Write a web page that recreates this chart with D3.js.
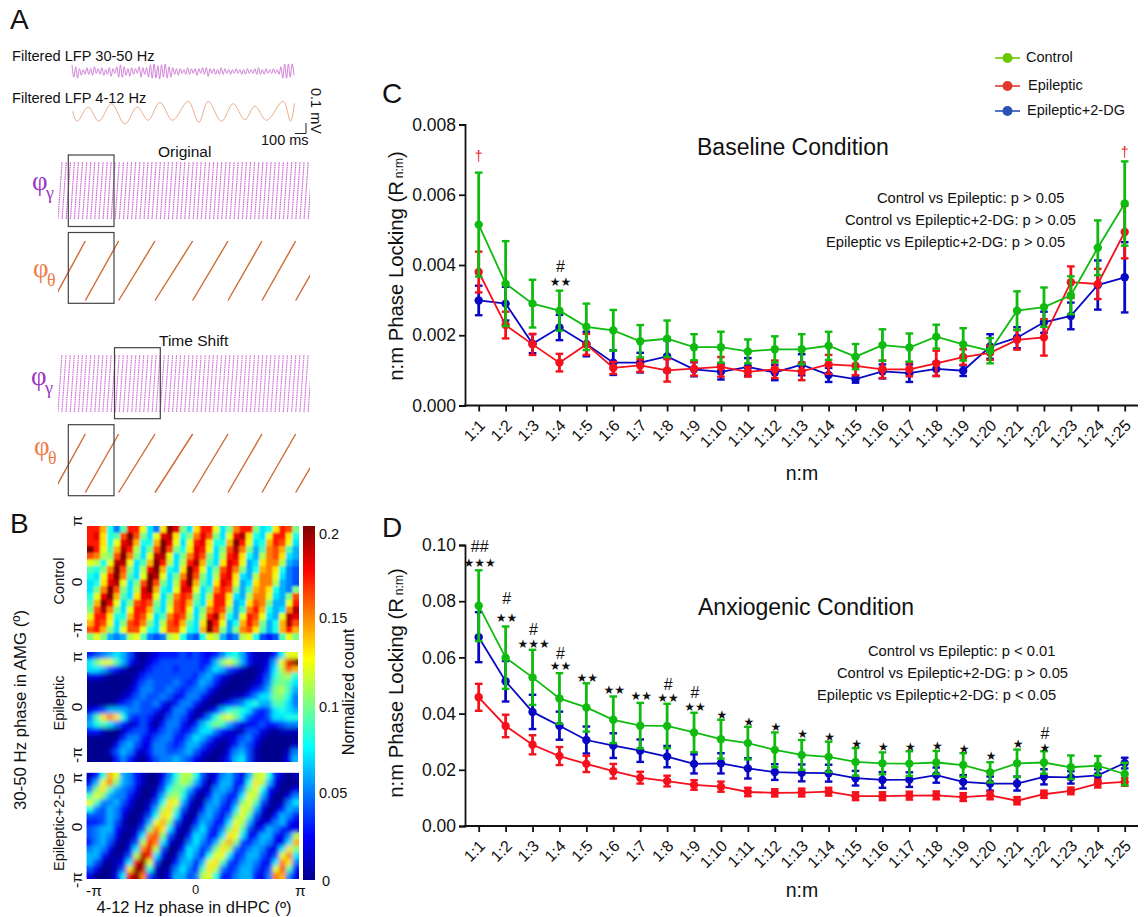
<!DOCTYPE html>
<html><head><meta charset="utf-8">
<script src="https://cdn.jsdelivr.net/npm/d3@7"></script>
<style>
html,body{margin:0;padding:0;background:#fff}
svg{display:block}
text{font-family:"Liberation Sans",Arial,sans-serif;fill:#111}
</style></head><body><svg id="c" width="1147" height="917"></svg>
<script>
// ---------- data: panels C and D ----------
const ratioLabels=["1:1","1:2","1:3","1:4","1:5","1:6","1:7","1:8","1:9","1:10","1:11","1:12","1:13","1:14","1:15","1:16","1:17","1:18","1:19","1:20","1:21","1:22","1:23","1:24","1:25"];
const seriesNames=["Control","Epileptic","Epileptic+2-DG"];
const baseControl=[5.15,3.47,2.9,2.7,2.24,2.14,1.83,1.9,1.66,1.66,1.54,1.6,1.6,1.7,1.39,1.72,1.65,1.96,1.74,1.56,2.7,2.8,3.14,4.49,5.75];
const baseControlErr=[1.48,1.21,.68,.57,.66,.58,.46,.52,.37,.44,.34,.37,.43,.4,.36,.45,.4,.34,.46,.36,.55,.56,.54,.78,1.2];
const baseEpileptic=[3.8,2.29,1.74,1.22,1.74,1.07,1.14,1.0,1.05,1.1,.96,1.03,.97,1.17,1.13,1.03,1.03,1.2,1.38,1.5,1.87,1.94,3.51,3.46,4.94];
const baseEpilepticErr=[.58,.38,.3,.25,.3,.17,.18,.32,.2,.28,.14,.25,.25,.27,.27,.25,.2,.36,.22,.2,.28,.52,.45,.43,.75];
const baseDG=[2.99,2.9,1.76,2.22,1.75,1.22,1.22,1.4,1.03,.96,1.1,.94,1.16,.87,.75,.97,.92,1.04,.99,1.68,1.93,2.37,2.55,3.43,3.65];
const baseDGErr=[.42,.48,.27,.36,.35,.35,.28,.45,.2,.22,.25,.22,.3,.2,.1,.2,.25,.2,.15,.35,.3,.3,.38,.7,1.0];
const anxControl=[.0784,.0599,.0529,.0454,.0422,.0378,.0357,.0356,.0333,.0309,.0295,.0271,.0253,.0246,.0228,.0223,.0222,.0226,.0217,.0191,.0223,.0226,.0209,.0215,.0185];
const anxControlErr=[.0126,.0111,.0098,.009,.0086,.0083,.0081,.0079,.007,.0069,.0058,.0062,.0053,.0054,.0049,.0039,.0044,.0041,.0042,.0036,.0049,.004,.0042,.0034,.004];
const anxEpileptic=[.0458,.0356,.0289,.0249,.0221,.0195,.0172,.016,.0146,.014,.0121,.0118,.0119,.0122,.0106,.0106,.0108,.0109,.0103,.0109,.009,.0113,.0125,.0151,.0157];
const anxEpilepticErr=[.0048,.004,.0034,.0032,.0029,.0026,.0021,.0019,.0017,.0018,.0015,.0013,.0014,.0014,.0014,.0014,.0014,.0014,.0014,.0014,.0013,.0013,.0012,.0014,.0014];
const anxDG=[.0672,.0515,.0406,.0357,.0306,.0286,.0268,.0247,.0221,.0223,.0205,.0192,.0189,.0188,.017,.0164,.0165,.0181,.0157,.0151,.0151,.0175,.0173,.018,.0224];
const anxDGErr=[.0089,.0072,.0061,.005,.0048,.0044,.004,.0038,.0034,.0036,.0036,.0028,.003,.003,.0026,.0028,.0026,.0027,.0024,.0025,.0025,.0027,.0022,.0022,.0019];
const baseTicks=[0,.002,.004,.006,.008];
const anxTicks=[0,.02,.04,.06,.08,.1];
const baseStats=["Control vs Epileptic: p > 0.05","Control vs Epileptic+2-DG: p > 0.05","Epileptic vs Epileptic+2-DG: p > 0.05"];
const anxStats=["Control vs Epileptic: p < 0.01","Control vs Epileptic+2-DG: p > 0.05","Epileptic vs Epileptic+2-DG: p < 0.05"];
const baseMarks=[["1:4","★★",.00352],["1:4","#",.00397]];
const baseDaggers=[["1:1",.0071],["1:25",.00722]];
const anxMarks=[["1:1","★★★",.0936],["1:1","##",.0995],["1:2","★★",.0742],["1:2","#",.0808],["1:3","★★★",.0648],["1:3","#",.0698],["1:4","★★",.0571],["1:4","#",.0615],["1:5","★★",.053],["1:6","★★",.0487],["1:7","★★",.0463],["1:8","★★",.0457],["1:8","#",.0502],["1:9","★★",.0425],["1:9","#",.0476],["1:10","★",.0397],["1:11","★",.0373],["1:12","★",.0354],["1:13","★",.0329],["1:14","★",.0317],["1:15","★",.0293],["1:16","★",.0284],["1:17","★",.0284],["1:18","★",.0287],["1:19","★",.0277],["1:20","★",.025],["1:21","★",.0292],["1:22","★",.0281],["1:22","#",.0329]];

// ---------- data: panel B (normalised count x100, one base-36 digit per cell, top row first) ----------
const gridControl=["hhe859hhc75dkia7dhhc7afhha78dhga","hid89gkga7cijd8afiga7cijd87chhd8","hhd8cije88ekic7chid88ekhc78ehgc7","khc9ejhb7agkga8dihc7agjfa69fge96","gfbagkfa7cjjc7afiga7bhid86bfgd76","cb8cjjc79ekhb7bhje97dihc67dffb65","98afkga7bike87dkhc7agifa68efd854","87chkf97ckjc7afkga7bhid76bffc754","78dijc7agkga7bhke97dihc67dffb654","7afkga7bike87ciic79fhga69efd865a","8cike97diic7afhga7bhhd76bffc76ag","9ekic7aghga7bghe97dhhc67dgfa66ch","agjfa7chhe97cghc7afhga69fhe867fj","chhd88ehgc79fhgb7bhje86chgc76cji","ehgc7aghfa7bghe97dkhc68ehfa68ejg","ghea7cggc87cggc87ekga6afgd968ehe","aca656bc9545bc8548cb645bc84349ca"];
const gridEpileptic=["345676410123334343235786311137cc","7acc9631023444444336aca631126cik","77643100134443444357643100137bge","22100001344444443564210000248ab8","00000002454445434653100001259a97","0000001355445434553100001346ab96","00000124544542355310001135 77aa85".replace(" ",""),"00001345445313553100134578669975","23466655443125531013689874347876","59dfd843431145420258bca743347788","6897531242035531368a964223433455","33100134422454235775321144210111","00000355324553357642112453100000","00002564225543466421013542000001","00014652135544564210025641000015","00003531024556542100136741000026"];
const gridDG=["138ec653100258bb841256426bc83101","26cfa653100369ba630366338db62000","5ad9654200148a9631156525ac831002","9ca655310026ab8410365337cb620025","c95564200148dc620156425ac9410157","85465310026bd9410365337cb6201365","44465200148dc720156425ac94103653","3346410026cea410365337cb62125632","456631014afd720157425ad941365322","456520027fga410376337dc72366325b","35641014bhf720157536bea43565227e","56520027fib40037635adb53565227da","6631014bjh720157538cc73466424cf7","6410127ikc40036636cd943565327fd5","420014dkj810157539db53466424cg93","200027ikf41026645bc833566325fe52"];
const heatTicks=[0,.05,.1,.15,.2];

// ---------- data: panel A ----------
const gammaLFP=[7,-6,5,-7,3,-4,2,-3,4,-3,3,-4,5,-2,3,-3,4,-4,2,-3,4,-5,3,-2,5,-6,7,-6,5,-4,3,-5,4,-3,3,-2,5,-6,4,-3,4,-6,7,-7,8,-7,6,-8,7,-6,8,-7,5,-6,4,-3,3,-4,3,-2,2,-3,4,-3,3,-2,3,-4,3,-2,4,-3,4,-5,3,-2,3,-3,2,-3,4,-3,3,-2,2,-3,2,-2,3,-2,2,-3,2,-3,3,-2,2,-2,3,-3,4,-3,2,-3,3,-2,2,-2,3,-2,2,-3,5,-7,8,-7,8,-6,8,-4];
const thetaT=[0,42,141,237,351,471,582,681,786,900,1041,1137,1221,1341,1446,1551,1641,1746,1896,1962,1998];
const thetaV=[.17,-.83,.6,-.83,.93,-1.1,.6,-.73,1.07,-.73,1.17,-.93,1.17,-.83,.93,-.67,.67,-.73,1.17,-.83,1];
const gammaOnsetsA=[0,37,74,112,148,183,221,259,295,331,368,406,443,478,514,552,590,626,663,699,737,775,810,846,884,921,958,994,1031,1069,1105,1141,1179,1217,1253,1289,1327,1364,1401,1437,1474,1512,1548,1585,1622,1660,1696,1733,1770,1807,1844,1881,1918,1955,1992,2029,2066,2104,2141,2178,2215,2252,2289];
const gammaOnsetsB=[0,35,72,110,147,185,220,256,294,332,367,404,441,479,516,551,588,626,664,700,735,772,810,848,883,919,957,995,1032,1067,1103,1140,1178,1215,1251,1288,1326,1363,1398,1435,1473,1510,1546,1583,1621,1659,1695,1731,1769,1806,1843,1879,1916,1954,1991,2028,2065,2103,2140,2177,2214,2251,2288];
const thetaOnsets=[-45,246,546,873,1212,1530,1836,2139,2448];

// ---------- drawing ----------
const svg=d3.select("#c");
const defs=svg.append("defs");
[["soft1",1.1],["soft2",2.0]].forEach(f=>defs.append("filter").attr("id",f[0]).attr("x","-5%").attr("y","-5%").attr("width","110%").attr("height","110%")
  .append("feGaussianBlur").attr("stdDeviation",f[1]));
const txt=(x,y,s,size,o={})=>{const t=svg.append("text").attr("x",x).attr("y",y).attr("font-size",size).text(s);
  for(const k in o)t.attr(k,o[k]);return t;};
const rot=(x,y,a,s,size,o={})=>txt(0,0,s,size,Object.assign({transform:`translate(${x},${y}) rotate(${a})`,"text-anchor":"middle"},o));

// panel letters
txt(10,29,"A",28);txt(10,533,"B",28);txt(382,103,"C",28);txt(382,537,"D",28);

// ---- panel A
txt(12,61,"Filtered LFP 30-50 Hz",14.6);
txt(12,103,"Filtered LFP 4-12 Hz",14.6);
const gx=d3.scaleLinear().domain([0,gammaLFP.length-1]).range([72,294]);
const gy=d3.scaleLinear().domain([-10,10]).range([81,62]);
svg.append("path").attr("d",d3.line().x((d,i)=>gx(i)).y(d=>gy(d)).curve(d3.curveMonotoneX)(gammaLFP))
  .attr("fill","none").attr("stroke","#cc74d4").attr("stroke-width",.9);
const tx=d3.scaleLinear().domain([0,1998]).range([72.5,294.5]);
const ty=d3.scaleLinear().domain([-1,1]).range([123,103]);
svg.append("path").attr("d",d3.line().x((d,i)=>tx(thetaT[i])).y(d=>ty(d)).curve(d3.curveCatmullRom)(thetaV))
  .attr("fill","none").attr("stroke","#e8ae8e").attr("stroke-width",1);
svg.append("path").attr("d","M295,133.5H306V123").attr("fill","none").attr("stroke","#222").attr("stroke-width",1);
txt(261,145,"100 ms",14.5);
rot(311,111,90,"0.1 mV",14.5);
txt(158,157,"Original",15.5);
txt(159,346,"Time Shift",15.5);

const phaseX=d3.scaleLinear().domain([0,2268]).range([58,310]);
function phasePanel(id,top,bot,onsets,color,w,dash){
  const y=d3.scaleLinear().domain([-Math.PI,Math.PI]).range([bot,top]);
  defs.append("clipPath").attr("id",id).append("rect").attr("x",58).attr("y",top-1).attr("width",252).attr("height",bot-top+2);
  const g=svg.append("g").attr("clip-path",`url(#${id})`);
  g.selectAll("line").data(onsets.slice(0,-1)).join("line")
    .attr("x1",d=>phaseX(d)).attr("x2",(d,i)=>phaseX(onsets[i+1]))
    .attr("y1",y(-Math.PI)).attr("y2",y(Math.PI))
    .attr("stroke",color).attr("stroke-width",w).attr("stroke-dasharray",dash);
}
phasePanel("pg1",162,219,gammaOnsetsA,"#cb62d4",1.15,"1.6 .7");
phasePanel("pt1",241,300.5,thetaOnsets,"#cf6a33",1.4,null);
phasePanel("pg2",355,412,gammaOnsetsB,"#d06cd8",1.15,"1.6 .7");
phasePanel("pt2",434,492.5,thetaOnsets,"#cf6a33",1.4,null);
[[68.3,155,114,226.5],[68.3,232.5,114,303.3],[114.5,347.7,160.3,418.7],[68.3,424.7,114,495.7]].forEach(b=>
  svg.append("rect").attr("x",b[0]).attr("y",b[1]).attr("width",b[2]-b[0]).attr("height",b[3]-b[1])
    .attr("fill","none").attr("stroke","#444").attr("stroke-width",1.2));
function phi(x,y,sub,color){
  txt(x,y,"φ",27,{style:`fill:${color};font-family:'Liberation Serif',serif`});
  txt(x+14,y+9,sub,18,{style:`fill:${color};font-family:'Liberation Serif',serif`});
}
phi(32,190,"γ","#9a35c0");phi(33,277,"θ","#ec7c48");phi(31,385,"γ","#9a35c0");phi(34,455,"θ","#ec7c48");

// ---- panel B
const jetStops=[0,.025,.075,.125,.175,.2];
const jet=d3.scaleLinear().domain(jetStops).range(["#00008f","#0000ff","#00ffff","#ffff00","#ff0000","#800000"]);
function heat(rows,x0,x1,y0,y1,id,f){
  const nc=rows[0].length,nr=rows.length;
  const cx=d3.scaleBand().domain(d3.range(nc)).range([x0,x1]);
  const cy=d3.scaleBand().domain(d3.range(nr)).range([y0,y1]);
  const cells=[];rows.forEach((s,r)=>{for(let c=0;c<nc;c++)cells.push({r,c,v:parseInt(s[c],36)/100});});
  defs.append("clipPath").attr("id",id).append("rect").attr("x",x0).attr("y",y0).attr("width",x1-x0).attr("height",y1-y0);
  const g=svg.append("g").attr("clip-path",`url(#${id})`);
  [null,f].forEach(fl=>{
    const l=g.append("g");if(fl)l.attr("filter",`url(#${fl})`);
    l.selectAll("rect").data(cells).join("rect")
      .attr("x",d=>cx(d.c)).attr("y",d=>cy(d.r)).attr("width",cx.bandwidth()+.4).attr("height",cy.bandwidth()+.4)
      .attr("fill",d=>jet(d.v));
  });
}
heat(gridControl,87,299,526,640,"h1","soft1");
heat(gridEpileptic,87,298,652,762,"h2","soft2");
heat(gridDG,86.5,299,772.7,879,"h3","soft2");
const grad=defs.append("linearGradient").attr("id","jetbar").attr("x1",0).attr("x2",0).attr("y1",1).attr("y2",0);
jetStops.forEach(s=>grad.append("stop").attr("offset",s/.2).attr("stop-color",jet(s)));
svg.append("rect").attr("x",303).attr("y",526).attr("width",12).attr("height",354).attr("fill","url(#jetbar)");
const barLab={0:[322,886],.05:[319,798],.1:[319,712],.15:[319,623],.2:[319,539]};
heatTicks.forEach(t=>txt(barLab[t][0],barLab[t][1],String(t),14.5));
rot(354,692,-90,"Normalized count",16.3);
[[521,"π"],[582,"0"],[630,"-π"],[657,"π"],[707,"0"],[755,"-π"],[778,"π"],[827,"0"],[880,"-π"]].forEach(d=>
  rot(82,d[0],-90,d[1],15.5));
rot(64,581,-90,"Control",14.5);rot(64,703,-90,"Epileptic",14.5);rot(64,822,-90,"Epileptic+2-DG",14.5);
rot(26,710,-90,"30-50 Hz phase in AMG (º)",16.8);
txt(86,896,"-π",15.5);txt(192,894,"0",13);txt(295,896,"π",15.5);
txt(194,913,"4-12 Hz phase in dHPC (º)",16.5,{"text-anchor":"middle"});

// ---- panels C and D
const colors={Control:"#10bb10",Epileptic:"#f6101c","Epileptic+2-DG":"#0808c4"};
function lockPanel(o){
  const x=d3.scalePoint().domain(ratioLabels).range([478.7,1124.7]);
  const y=d3.scaleLinear().domain(o.domain).range([o.y0,o.y1]);
  const gY=svg.append("g").attr("transform","translate(465,0)")
    .call(d3.axisLeft(y).tickValues(o.ticks).tickFormat(d3.format(o.fmt)).tickSize(6).tickPadding(3));
  const gX=svg.append("g").attr("transform",`translate(0,${o.y0})`)
    .call(d3.axisBottom(x).tickSize(6));
  gX.select(".domain").remove();
  svg.append("line").attr("x1",464).attr("x2",1138).attr("y1",o.y0).attr("y2",o.y0).attr("stroke","#111").attr("stroke-width",1.8);
  gY.selectAll("line").attr("stroke-width",1.8).attr("stroke","#111");
  gY.select(".domain").attr("stroke-width",1.8).attr("stroke","#111");
  gX.selectAll("line").attr("stroke-width",1.8).attr("stroke","#111");
  gY.selectAll("text").attr("font-size",17.5).style("font-family",'"Liberation Sans"').style("fill","#111");
  gX.selectAll("text").attr("font-size",16).style("font-family",'"Liberation Sans"').style("fill","#111")
    .attr("text-anchor","end").attr("x",0).attr("y",0).attr("dy","0.35em")
    .attr("transform","translate(3,17) rotate(-45)");
  o.series.forEach(s=>{
    const c=colors[s.name];
    const g=svg.append("g");
    const rows=ratioLabels.map((l,i)=>({l,v:s.v[i],e:s.e[i]}));
    g.selectAll(".eb").data(rows).join("line").attr("x1",d=>x(d.l)).attr("x2",d=>x(d.l))
      .attr("y1",d=>y(d.v-d.e)).attr("y2",d=>y(d.v+d.e)).attr("stroke",c).attr("stroke-width",2.8);
    [-1,1].forEach(sg=>g.selectAll(".cap"+sg).data(rows).join("line")
      .attr("x1",d=>x(d.l)-3.8).attr("x2",d=>x(d.l)+3.8)
      .attr("y1",d=>y(d.v+sg*d.e)).attr("y2",d=>y(d.v+sg*d.e)).attr("stroke",c).attr("stroke-width",2.4));
    g.append("path").attr("d",d3.line().x(d=>x(d.l)).y(d=>y(d.v))(rows)).attr("fill","none").attr("stroke",c).attr("stroke-width",1.8);
    g.selectAll("circle").data(rows).join("circle").attr("cx",d=>x(d.l)).attr("cy",d=>y(d.v)).attr("r",4.2).attr("fill",c);
  });
  o.marks.forEach(m=>{
    const isStar=m[1][0]==="★";
    const t=txt(x(m[0])+1,y(m[2])+(isStar?4.5:5.5),m[1],isStar?12:16,{"text-anchor":"middle"});
    if(isStar)t.style("font-family",'"DejaVu Sans"');
  });
  const t=txt(0,0,"",20.3,{transform:`translate(${o.labelX},${o.labelY}) rotate(-90)`,"text-anchor":"middle"});
  t.append("tspan").text("n:m Phase Locking (R");
  t.append("tspan").attr("font-size",12).attr("dx",3).text("n:m");
  t.append("tspan").attr("dx",0).text(")");
  txt(o.titleX,o.titleY,o.title,23);
  o.stats.forEach((s,i)=>txt(o.statX[i],o.statY[i],s,14.7));
  txt(802,o.xlabY,"n:m",19.5,{"text-anchor":"middle"});
}
lockPanel({domain:[0,.008],y0:405.5,y1:124.5,ticks:baseTicks,fmt:".3f",labelX:403,labelY:266,title:"Baseline Condition",titleX:697,titleY:155,
  stats:baseStats,statX:[877,845,826],statY:[203,225,247],xlabY:480,marks:baseMarks,
  series:[{name:"Epileptic+2-DG",v:baseDG.map(d=>d/1000),e:baseDGErr.map(d=>d/1000)},
          {name:"Epileptic",v:baseEpileptic.map(d=>d/1000),e:baseEpilepticErr.map(d=>d/1000)},
          {name:"Control",v:baseControl.map(d=>d/1000),e:baseControlErr.map(d=>d/1000)}]});
lockPanel({domain:[0,.1],y0:826,y1:545,ticks:anxTicks,fmt:".2f",labelX:403,labelY:683,title:"Anxiogenic Condition",titleX:698,titleY:615,
  stats:anxStats,statX:[868,837,817],statY:[656,678,700],xlabY:897,marks:anxMarks,
  series:[{name:"Epileptic+2-DG",v:anxDG,e:anxDGErr},{name:"Epileptic",v:anxEpileptic,e:anxEpilepticErr},{name:"Control",v:anxControl,e:anxControlErr}]});
const dx=d3.scalePoint().domain(ratioLabels).range([478.7,1124.7]);
const dy=d3.scaleLinear().domain([0,.008]).range([405.5,124.5]);
baseDaggers.forEach(d=>txt(dx(d[0]),dy(d[1])+5,"†",14,{"text-anchor":"middle",style:"fill:#e8202a"}));

// legend
const legColors=["#6cc600","#e2392c","#2a52b6"];
const legY=[58,86,111],legTx=[1026,1028,1027];
seriesNames.forEach((n,i)=>{
  svg.append("line").attr("x1",995).attr("x2",1020).attr("y1",legY[i]).attr("y2",legY[i]).attr("stroke",legColors[i]).attr("stroke-width",1.6);
  svg.append("circle").attr("cx",1007.5).attr("cy",legY[i]).attr("r",5).attr("fill",legColors[i]);
  txt(legTx[i],legY[i]+4,n,14.5);
});
</script></body></html>
